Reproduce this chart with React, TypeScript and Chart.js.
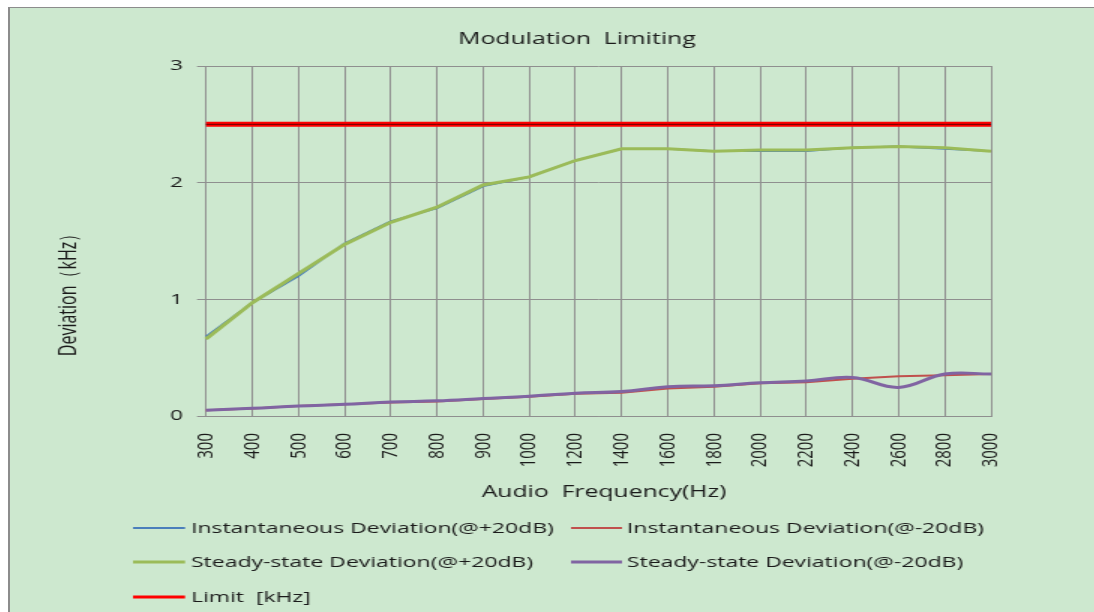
import React, { useEffect, useRef } from "react";
import { Chart, registerables } from "chart.js";

Chart.register(...registerables);

// ---------- data ----------
const chartTitle = "Modulation  Limiting";
const xAxisTitle = "Audio  Frequency(Hz)";
const yAxisTitle = "Deviation（kHz）";

const frequencies = [
  "300", "400", "500", "600", "700", "800", "900", "1000", "1200",
  "1400", "1600", "1800", "2000", "2200", "2400", "2600", "2800", "3000",
];

const instantPlus20 = [0.68, 0.97, 1.2, 1.48, 1.67, 1.78, 1.97, 2.05, 2.19, 2.29, 2.29, 2.27, 2.27, 2.27, 2.3, 2.31, 2.29, 2.27];
const instantMinus20 = [0.05, 0.065, 0.085, 0.1, 0.115, 0.125, 0.145, 0.165, 0.19, 0.2, 0.235, 0.25, 0.28, 0.29, 0.32, 0.34, 0.35, 0.36];
const steadyPlus20 = [0.66, 0.97, 1.22, 1.47, 1.66, 1.79, 1.98, 2.05, 2.19, 2.29, 2.29, 2.27, 2.28, 2.28, 2.3, 2.31, 2.3, 2.27];
const steadyMinus20 = [0.05, 0.066, 0.086, 0.1, 0.12, 0.13, 0.15, 0.17, 0.195, 0.21, 0.25, 0.26, 0.285, 0.3, 0.33, 0.245, 0.36, 0.36];
const limitKHz = [2.5, 2.5, 2.5, 2.5, 2.5, 2.5, 2.5, 2.5, 2.5, 2.5, 2.5, 2.5, 2.5, 2.5, 2.5, 2.5, 2.5, 2.5];

const yTicks = [0, 1, 2, 3];

const seriesLabels = [
  "Instantaneous Deviation(@+20dB)",
  "Instantaneous Deviation(@-20dB)",
  "Steady-state Deviation(@+20dB)",
  "Steady-state Deviation(@-20dB)",
  "Limit  [kHz]",
];

// ---------- layout / style ----------
const STRETCH = 1.5; // the reference is horizontally stretched
const CANVAS_W = 723;
const CANVAS_H = 604;
const BG = "#cde8cf";
const GRID = "#8f8f8f";
const TEXT = "#1a1a1a";
const FONT = "'Open Sans', 'Noto Sans', sans-serif";

const textPlugin = {
  id: "customTexts",
  afterDatasetsDraw(chart: any) {
    // dark centre of the limit line
    const meta = chart.getDatasetMeta(4);
    const pts = meta.data;
    if (pts && pts.length) {
      const ctx = chart.ctx;
      ctx.save();
      ctx.strokeStyle = "#6a0000";
      ctx.lineWidth = 1;
      ctx.beginPath();
      ctx.moveTo(pts[0].x, pts[0].y);
      for (let i = 1; i < pts.length; i++) ctx.lineTo(pts[i].x, pts[i].y);
      ctx.stroke();
      ctx.restore();
    }
  },
  afterDraw(chart: any) {
    const ctx = chart.ctx;
    ctx.save();
    ctx.fillStyle = TEXT;
    ctx.textBaseline = "middle";

    // title
    ctx.font = `16.5px ${FONT}`;
    ctx.textAlign = "center";
    ctx.fillText(chartTitle, 378, 31);

    // x axis title
    ctx.font = `16.5px ${FONT}`;
    ctx.fillText(xAxisTitle, 396, 484);

    // y axis title
    ctx.save();
    ctx.translate(39, 283);
    ctx.rotate(-Math.PI / 2);
    ctx.font = `16px ${FONT}`;
    ctx.textAlign = "center";
    ctx.fillText(yAxisTitle, 0, 0);
    ctx.restore();

    // legend (2 columns)
    const cols = [
      { x0: 82, x1: 116.7, tx: 120.7 },
      { x0: 374, x1: 408, tx: 411.3 },
    ];
    const rows = [520, 554, 589];
    ctx.font = `15.3px ${FONT}`;
    ctx.textAlign = "left";
    chart.data.datasets.forEach((ds: any, i: number) => {
      const c = cols[i % 2];
      const y = rows[Math.floor(i / 2)];
      ctx.strokeStyle = ds.borderColor;
      ctx.lineWidth = Math.min(ds.borderWidth, 3);
      ctx.beginPath();
      ctx.moveTo(c.x0, y);
      ctx.lineTo(c.x1, y);
      ctx.stroke();
      ctx.fillStyle = TEXT;
      ctx.fillText(ds.label, c.tx, y + 0.5);
    });
    ctx.restore();
  },
};

export default function App() {
  const ref = useRef<HTMLCanvasElement | null>(null);

  useEffect(() => {
    if (!ref.current) return;
    const chart = new Chart(ref.current, {
      type: "line",
      data: {
        labels: frequencies,
        datasets: [
          { label: seriesLabels[0], data: instantPlus20, borderColor: "#4a7ebb", borderWidth: 1.8, order: 3, tension: 0 },
          { label: seriesLabels[1], data: instantMinus20, borderColor: "#c0504d", borderWidth: 2, order: 4, tension: 0 },
          { label: seriesLabels[2], data: steadyPlus20, borderColor: "#9bbb59", borderWidth: 3, order: 1, tension: 0 },
          { label: seriesLabels[3], data: steadyMinus20, borderColor: "#8064a2", borderWidth: 3, order: 2, tension: 0.4 },
          { label: seriesLabels[4], data: limitKHz, borderColor: "#ff0000", borderWidth: 5, order: 0, tension: 0 },
        ].map((d) => ({ ...d, pointRadius: 0, pointHoverRadius: 0, fill: false })),
      },
      options: {
        animation: false,
        responsive: false,
        events: [],
        layout: { padding: { left: 90.7, right: 69, top: 58, bottom: 106 } },
        plugins: {
          legend: { display: false },
          title: { display: false },
          tooltip: { enabled: false },
        },
        scales: {
          x: {
            type: "category",
            offset: false,
            afterFit: (s: any) => { s.height = 90; },
            grid: { color: GRID, lineWidth: 1, drawTicks: false, offset: false },
            border: { color: GRID, width: 1 },
            ticks: {
              autoSkip: false,
              minRotation: 90,
              maxRotation: 90,
              padding: 17,
              color: TEXT,
              font: { family: FONT, size: 15 },
            },
          },
          y: {
            type: "linear",
            min: 0,
            max: 3,
            afterFit: (s: any) => { s.width = 40; },
            afterBuildTicks: (s: any) => { s.ticks = yTicks.map((v) => ({ value: v })); },
            grid: { color: GRID, lineWidth: 1, drawTicks: true, tickLength: 6, tickColor: GRID },
            border: { color: GRID, width: 1 },
            ticks: {
              padding: 9.4,
              color: TEXT,
              font: { family: FONT, size: 15 },
            },
          },
        },
      },
      plugins: [textPlugin],
    } as any);
    return () => chart.destroy();
  }, []);

  return (
    <div
      style={{
        position: "fixed",
        left: 8,
        top: 7,
        right: 0,
        bottom: 0,
        borderTop: "1px solid #8c8c8c",
        borderLeft: "2px solid #8c8c8c",
        background: BG,
        overflow: "hidden",
      }}
    >
      <canvas
        ref={ref}
        width={CANVAS_W}
        height={CANVAS_H}
        style={{
          position: "absolute",
          left: 0,
          top: 0,
          width: CANVAS_W,
          height: CANVAS_H,
          transform: `scaleX(${STRETCH})`,
          transformOrigin: "0 0",
        }}
      />
    </div>
  );
}
